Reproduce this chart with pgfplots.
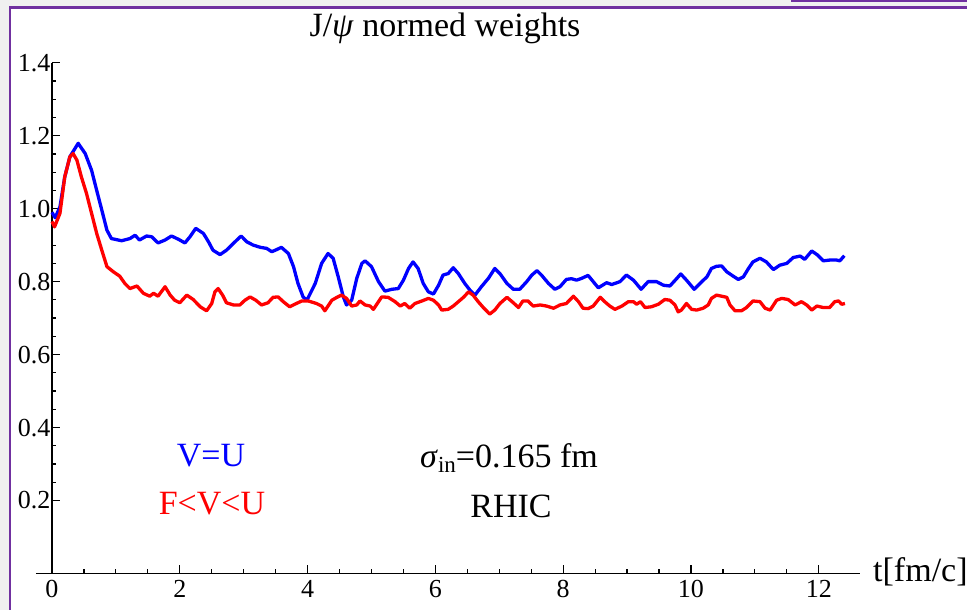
\documentclass[border=0pt]{standalone}
\usepackage{pgfplots}
\pgfplotsset{compat=1.18}
\usepackage{pgfplotstable}
\usepackage{fontspec}
\setmainfont{Liberation Serif}
\newfontfamily\tickfont{Liberation Serif}
\definecolor{frame}{RGB}{112,48,160}
\definecolor{outer}{RGB}{240,240,240}
\pgfplotstableread{
x y
0 0.99
0.05 0.975
0.125 1.005
0.2 1.087
0.28 1.142
0.41 1.179
0.52 1.151
0.62 1.105
0.70 1.05
0.78 0.996
0.86 0.941
0.93 0.918
1.09 0.912
1.22 0.918
1.30 0.927
1.37 0.914
1.48 0.925
1.56 0.923
1.66 0.906
1.77 0.914
1.87 0.925
1.98 0.916
2.08 0.906
2.16 0.923
2.25 0.946
2.37 0.932
2.45 0.909
2.52 0.886
2.63 0.874
2.73 0.886
2.84 0.905
2.96 0.925
3.05 0.909
3.15 0.9
3.26 0.894
3.36 0.891
3.44 0.882
3.52 0.888
3.59 0.894
3.70 0.877
3.78 0.841
3.85 0.795
3.93 0.758
3.99 0.749
4.12 0.795
4.22 0.85
4.32 0.877
4.40 0.864
4.48 0.813
4.56 0.758
4.61 0.736
4.69 0.749
4.77 0.809
4.85 0.85
4.90 0.857
5.00 0.841
5.11 0.80
5.21 0.774
5.32 0.779
5.42 0.781
5.50 0.804
5.58 0.836
5.65 0.854
5.73 0.836
5.81 0.795
5.89 0.772
5.97 0.766
6.05 0.79
6.12 0.818
6.20 0.822
6.28 0.838
6.36 0.822
6.46 0.795
6.54 0.777
6.62 0.763
6.72 0.786
6.83 0.809
6.93 0.836
7.01 0.822
7.12 0.795
7.22 0.779
7.32 0.779
7.43 0.80
7.51 0.818
7.59 0.83
7.66 0.818
7.77 0.795
7.87 0.779
7.95 0.786
8.05 0.806
8.13 0.808
8.21 0.804
8.29 0.809
8.39 0.817
8.47 0.80
8.55 0.783
8.68 0.797
8.76 0.792
8.89 0.80
8.99 0.818
9.10 0.804
9.22 0.779
9.33 0.80
9.46 0.80
9.57 0.79
9.67 0.788
9.78 0.809
9.84 0.821
9.93 0.804
10.05 0.779
10.17 0.80
10.25 0.813
10.32 0.836
10.40 0.842
10.48 0.843
10.56 0.827
10.66 0.815
10.74 0.806
10.82 0.813
10.90 0.836
10.97 0.854
11.08 0.864
11.18 0.854
11.29 0.833
11.39 0.845
11.50 0.85
11.60 0.866
11.71 0.87
11.78 0.861
11.89 0.884
11.98 0.873
12.07 0.857
12.17 0.859
12.28 0.859
12.33 0.857
12.40 0.871
}\bluedata
\pgfplotstableread{
x y
0 0.965
0.04 0.95
0.125 0.987
0.2 1.087
0.28 1.142
0.33 1.151
0.39 1.133
0.46 1.087
0.54 1.042
0.62 0.987
0.70 0.932
0.78 0.886
0.86 0.841
0.96 0.827
1.06 0.815
1.14 0.795
1.22 0.781
1.33 0.788
1.43 0.768
1.53 0.760
1.59 0.768
1.66 0.760
1.77 0.786
1.85 0.763
1.92 0.749
2.00 0.742
2.11 0.763
2.21 0.751
2.32 0.731
2.42 0.72
2.50 0.740
2.55 0.772
2.60 0.781
2.67 0.763
2.73 0.742
2.84 0.736
2.94 0.736
3.02 0.749
3.10 0.758
3.19 0.749
3.28 0.736
3.38 0.742
3.46 0.757
3.54 0.758
3.62 0.745
3.72 0.731
3.80 0.738
3.91 0.747
4.01 0.747
4.14 0.740
4.22 0.733
4.27 0.72
4.32 0.733
4.38 0.749
4.46 0.757
4.53 0.763
4.61 0.754
4.69 0.733
4.77 0.736
4.82 0.747
4.90 0.736
4.98 0.733
5.03 0.724
5.11 0.745
5.16 0.758
5.26 0.757
5.37 0.745
5.45 0.733
5.52 0.740
5.60 0.727
5.68 0.740
5.79 0.747
5.89 0.754
5.97 0.749
6.05 0.736
6.10 0.722
6.20 0.724
6.28 0.733
6.36 0.745
6.44 0.757
6.52 0.772
6.59 0.763
6.67 0.745
6.75 0.729
6.85 0.711
6.93 0.722
7.01 0.740
7.12 0.757
7.22 0.742
7.30 0.729
7.37 0.747
7.45 0.747
7.53 0.733
7.64 0.736
7.74 0.733
7.85 0.727
7.95 0.736
8.05 0.740
8.16 0.760
8.24 0.745
8.31 0.727
8.39 0.726
8.47 0.733
8.58 0.757
8.65 0.745
8.73 0.733
8.81 0.724
8.92 0.733
9.02 0.745
9.10 0.745
9.15 0.738
9.21 0.745
9.28 0.729
9.38 0.731
9.49 0.738
9.59 0.751
9.67 0.749
9.75 0.736
9.80 0.717
9.85 0.722
9.93 0.740
10.01 0.724
10.09 0.722
10.19 0.727
10.27 0.736
10.32 0.754
10.40 0.763
10.48 0.760
10.56 0.757
10.61 0.736
10.69 0.72
10.79 0.72
10.87 0.729
10.97 0.747
11.08 0.745
11.16 0.727
11.24 0.722
11.34 0.749
11.42 0.754
11.52 0.751
11.63 0.736
11.73 0.745
11.81 0.736
11.89 0.722
11.97 0.733
12.07 0.729
12.17 0.729
12.25 0.745
12.31 0.747
12.36 0.738
12.41 0.740
}\reddata
\begin{document}
\begin{tikzpicture}[x=1pt,y=1pt]
\useasboundingbox (0,0) rectangle (967,610);
\fill[outer] (0,0) rectangle (967,610);
\fill[white] (10.5,0) rectangle (967,601.5);
\draw[frame, line width=2.2pt] (9.6,0) -- (9.6,602.5) -- (967,602.5);
\draw[frame, line width=2pt] (792,610) -- (792,608.5) -- (967,608.5);
\begin{axis}[
  at={(36pt,36.5pt)}, anchor=south west,
  scale only axis, width=824.3pt, height=510.8pt,
  xmin=-0.25, xmax=12.65, ymin=0, ymax=1.4,
  axis lines=middle,
  axis line style={-, black, line width=1.3pt},
  hide obscured x ticks=false,
  hide obscured y ticks=false,
  xtick={0,2,4,6,8,10,12},
  ytick={0.2,0.4,0.6,0.8,1.0,1.2,1.4},
  minor x tick num=3,
  minor y tick num=3,
  tick align=inside,
  major tick length=8pt,
  minor tick length=4.5pt,
  every tick/.style={black, line width=1.2pt},
  xticklabels={0,2,4,6,8,10,12},
  yticklabels={0.2,0.4,0.6,0.8,1.0,1.2,1.4},
  yticklabel style={font=\tickfont\fontsize{26}{30}\selectfont, xshift=2pt},
  xticklabel style={font=\tickfont\fontsize{26}{30}\selectfont, yshift=-3pt},
  clip=false,
]
\addplot[blue, line width=3.3pt, line join=round] table[x=x,y=y] {\bluedata};
\addplot[red, line width=3.3pt, line join=round] table[x=x,y=y] {\reddata};
\end{axis}
\node[anchor=base, font=\fontsize{34}{40}\selectfont] at (445,573.5) {J/\textit{ψ} normed weights};
\node[anchor=base, text=blue, font=\fontsize{34}{40}\selectfont] at (211,143.3) {V=U};
\node[anchor=base, text=red, font=\fontsize{34}{40}\selectfont] at (212,95) {F<V<U};
\node[anchor=base, font=\fontsize{34}{40}\selectfont] at (509,142.7) {\textit{σ}\raisebox{-5pt}{\fontsize{23}{23}\selectfont in}=0.165 fm};
\node[anchor=base, font=\fontsize{34}{40}\selectfont] at (511,92.7) {RHIC};
\node[anchor=base west, inner sep=0pt, font=\fontsize{34}{40}\selectfont] at (873,28.3) {t[fm/c]};
\end{tikzpicture}
\end{document}
